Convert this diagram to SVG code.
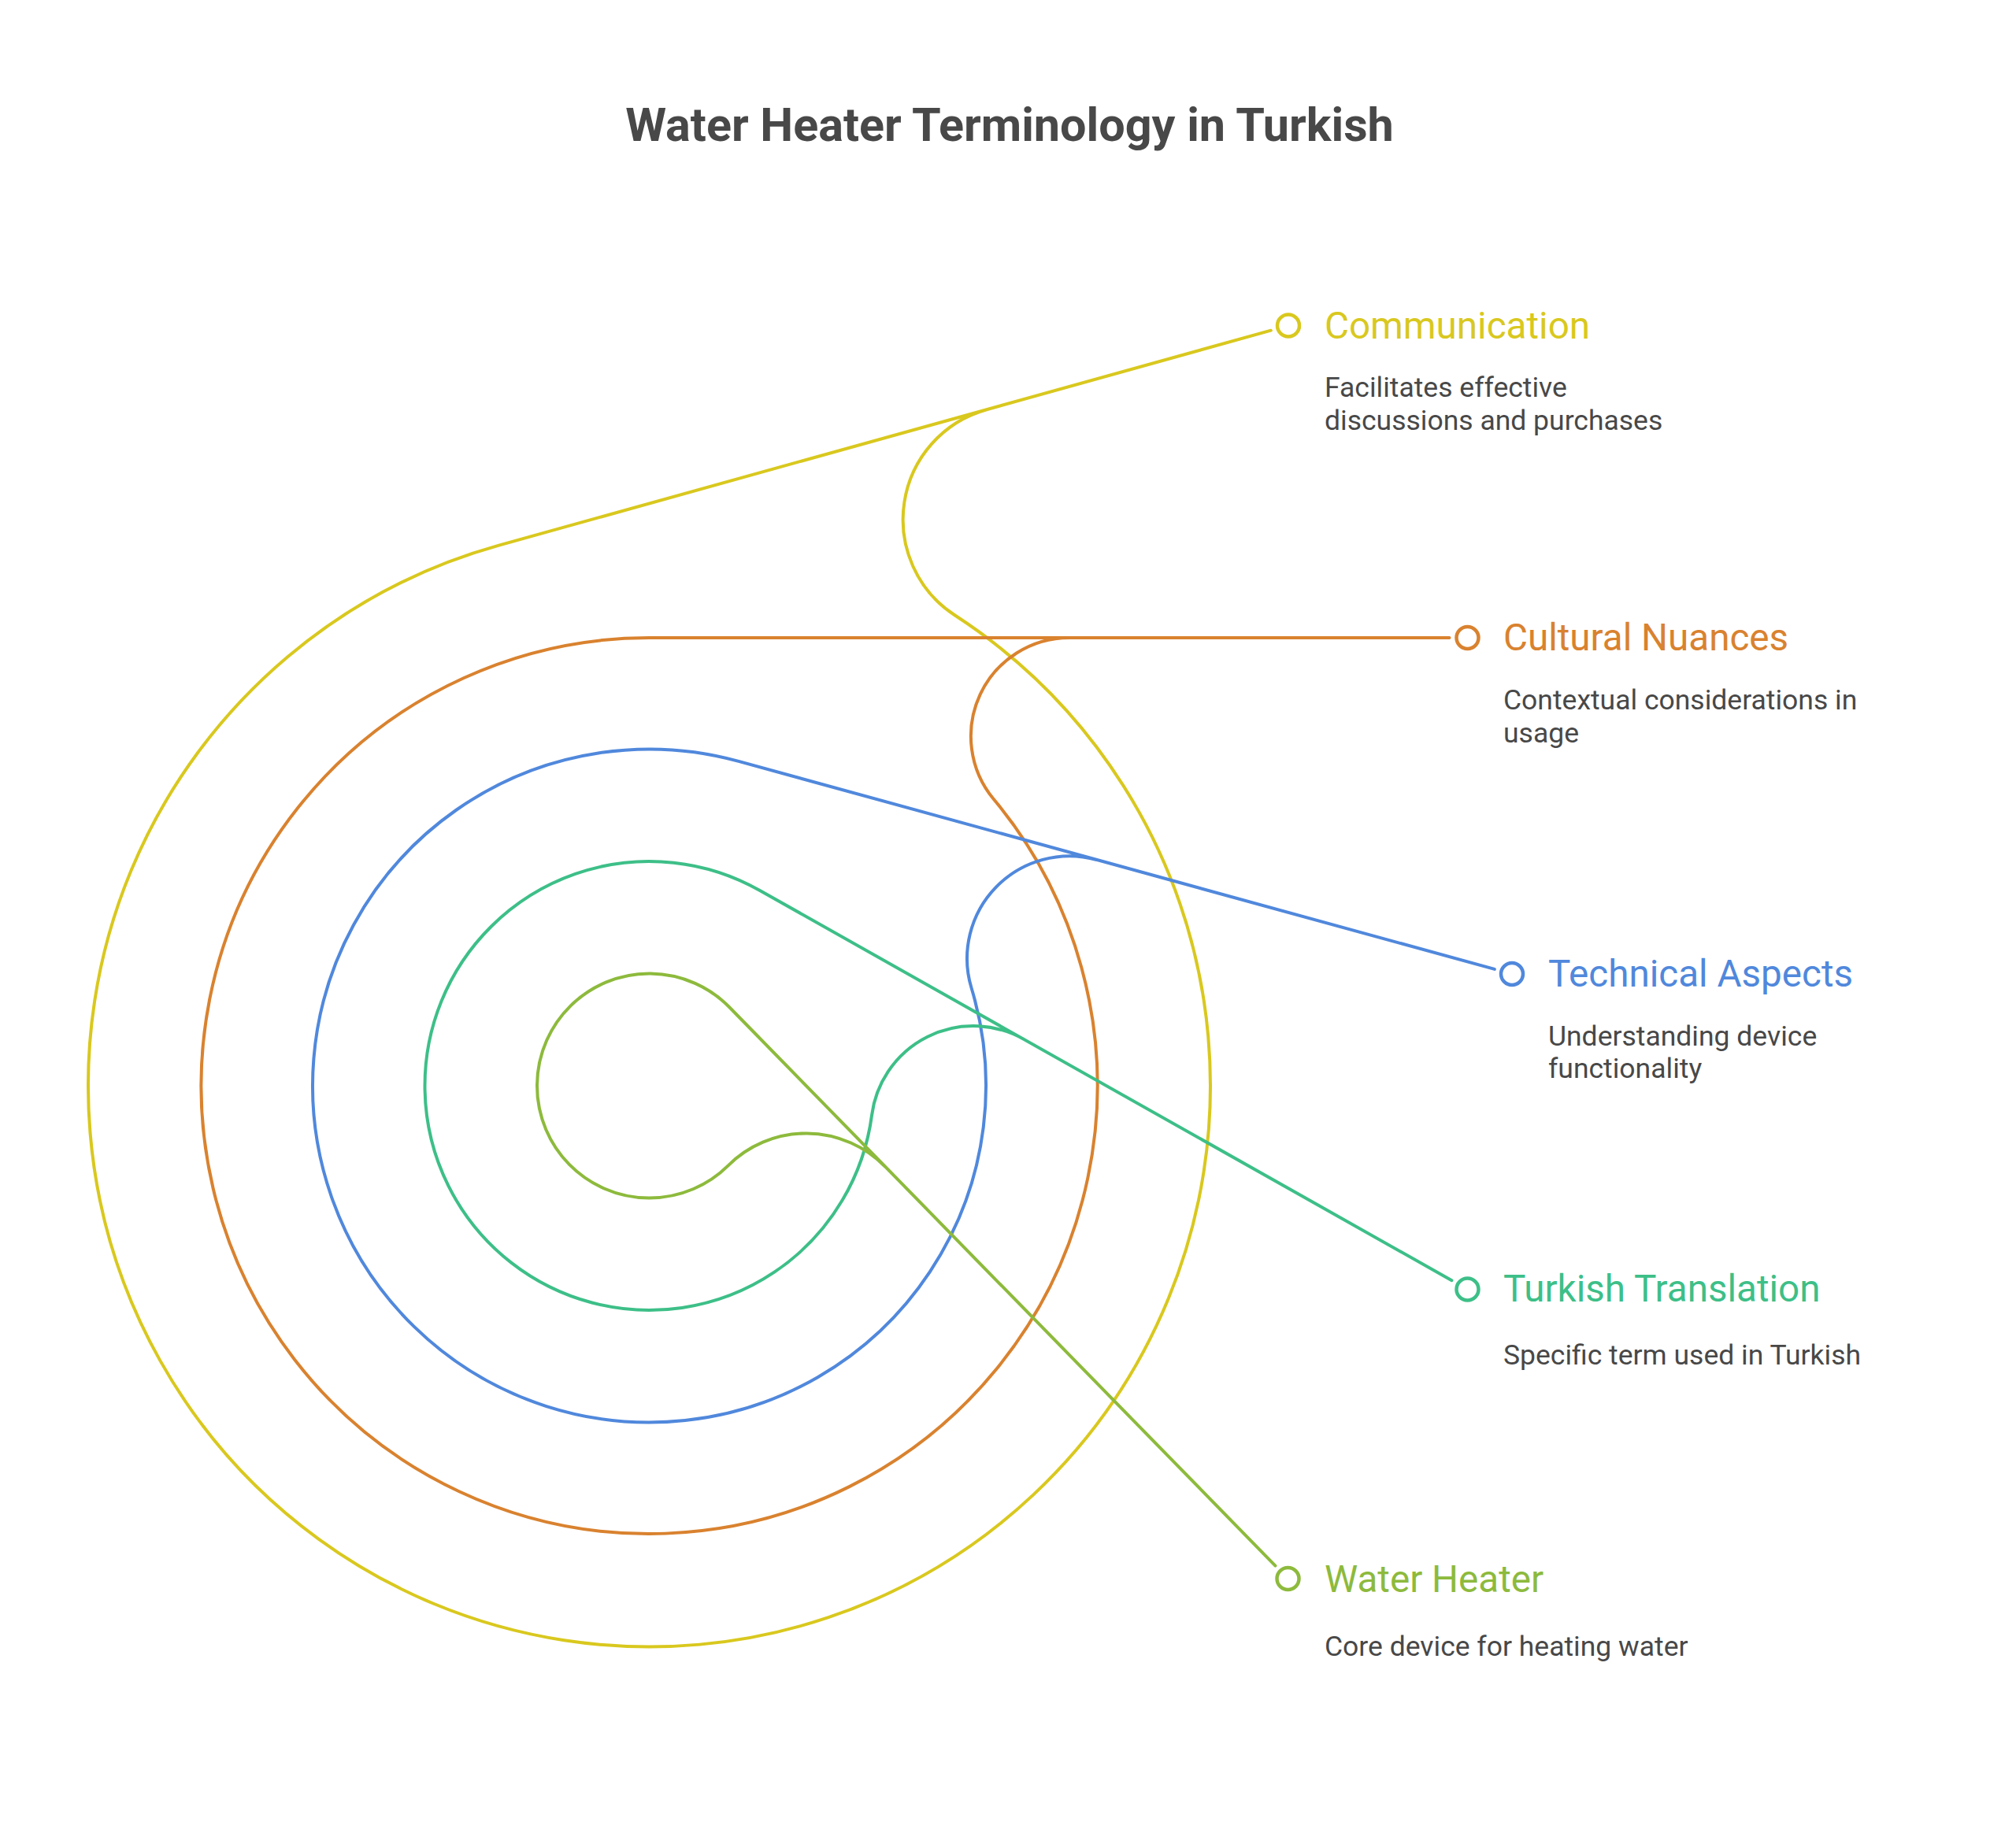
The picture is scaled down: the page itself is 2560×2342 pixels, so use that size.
<svg xmlns="http://www.w3.org/2000/svg" width="2560" height="2342" viewBox="0 0 2560 2342">
<style>
.bg{fill:#ffffff}
.title{font-family:Roboto,"Liberation Sans",sans-serif;font-weight:700;font-size:59.3px;fill:#484848}
.lbl{font-family:Roboto,"Liberation Sans",sans-serif;font-size:47.6px}
.desc{font-family:Roboto,"Liberation Sans",sans-serif;font-size:35.5px;fill:#484848}
.ring{fill:none;stroke-width:4;stroke-linecap:round;stroke-linejoin:round}
.mk{fill:#ffffff;stroke-width:4.5}
.y{stroke:#D9C81E}.yt{fill:#D9C81E}
.o{stroke:#D9822F}.ot{fill:#D9822F}
.b{stroke:#5088DC}.bt{fill:#5088DC}
.g{stroke:#3DBF88}.gt{fill:#3DBF88}
.l{stroke:#8DBA3C}.lt{fill:#8DBA3C}
</style>
<rect class="bg" x="0" y="0" width="2560" height="2342"/>
<text class="title" x="1282" y="179" text-anchor="middle">Water Heater Terminology in Turkish</text>
<g id="connectors">
<path class="ring y" d="M1613.84 419.67 L633.49 692.58 A712.5 712.5 0 1 0 1212.67 781.53 A145 145 0 0 1 1252.80 520.25"/>
<path class="ring o" d="M1840.5 810 L824.5 810 A569 569 0 1 0 1261.82 1014.97 A125 125 0 0 1 1357.89 810"/>
<path class="ring b" d="M1897.82 1230.90 L937.95 966.83 A427.5 427.5 0 1 0 1233.62 1255.00 A130 130 0 0 1 1392.53 1091.95"/>
<path class="ring g" d="M1843.46 1626.20 L964.47 1130.74 A285 285 0 1 0 1107.08 1416.12 A130 130 0 0 1 1299.82 1319.81"/>
<path class="ring l" d="M1619.44 1988.54 L926.49 1279.48 A142.5 142.5 0 1 0 924.93 1480.10 A140 140 0 0 1 1123.79 1481.65"/>
</g>
<g id="node-communication">
<circle class="mk y" cx="1636" cy="413.5" r="14"/>
<text class="lbl yt" x="1682" y="429.5">Communication</text>
<text class="desc" x="1682" y="504">Facilitates effective</text>
<text class="desc" x="1682" y="546">discussions and purchases</text>
</g>
<g id="node-cultural-nuances">
<circle class="mk o" cx="1863.5" cy="810" r="14"/>
<text class="lbl ot" x="1909" y="826">Cultural Nuances</text>
<text class="desc" x="1909" y="901">Contextual considerations in</text>
<text class="desc" x="1909" y="943">usage</text>
</g>
<g id="node-technical-aspects">
<circle class="mk b" cx="1920" cy="1237" r="14"/>
<text class="lbl bt" x="1966" y="1253">Technical Aspects</text>
<text class="desc" x="1966" y="1327.5">Understanding device</text>
<text class="desc" x="1966" y="1369">functionality</text>
</g>
<g id="node-turkish-translation">
<circle class="mk g" cx="1863.5" cy="1637.5" r="14"/>
<text class="lbl gt" x="1909" y="1653">Turkish Translation</text>
<text class="desc" x="1909" y="1732.5">Specific term used in Turkish</text>
</g>
<g id="node-water-heater">
<circle class="mk l" cx="1635.5" cy="2005" r="14"/>
<text class="lbl lt" x="1682" y="2021.5">Water Heater</text>
<text class="desc" x="1682" y="2102.5">Core device for heating water</text>
</g>
</svg>
